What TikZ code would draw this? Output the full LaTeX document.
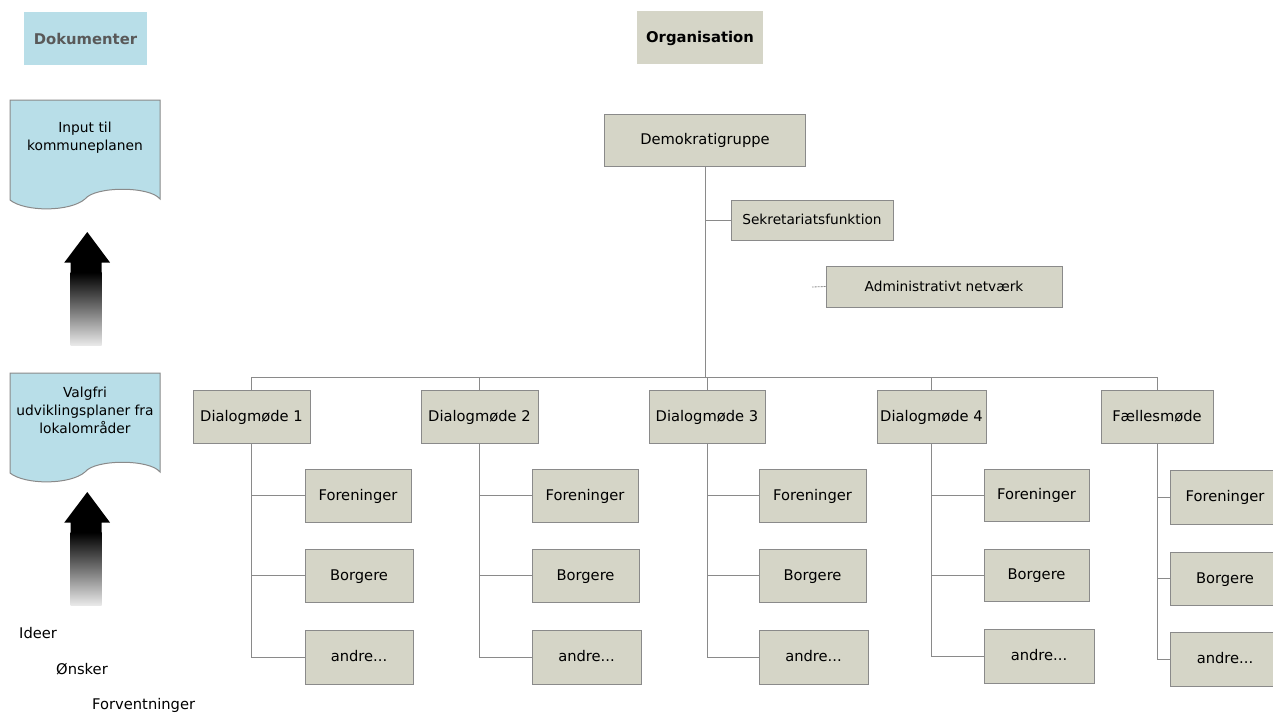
\documentclass[tikz,border=0pt]{standalone}
\usepackage{fontspec}
\setmainfont{DejaVu Sans}
\definecolor{boxfill}{HTML}{D5D5C7}
\definecolor{docblue}{HTML}{B8DEE8}
\definecolor{edgegray}{HTML}{8A8A8A}
\definecolor{titlegray}{HTML}{595959}
\begin{document}
\begin{tikzpicture}[x=1pt,y=-1pt,
  box/.style={draw=edgegray, line width=1pt, fill=boxfill, inner sep=0pt,
    text height=10.8pt, text depth=1.6pt,
    font=\fontsize{14.7}{17}\selectfont},
  conn/.style={draw=edgegray, line width=1pt},
  plain/.style={inner sep=0pt, anchor=west, font=\fontsize{14.7}{17}\selectfont},
  doctext/.style={inner sep=0pt, align=center, font=\fontsize{13.8}{18}\selectfont},
  docshape/.pic={
    \path[fill=docblue, draw=edgegray, line width=1pt]
      (10,100) -- (160,100) -- (160,199)
      .. controls (150,186) and (95,186) .. (85,199)
      .. controls (70,212) and (25,212) .. (10,200) -- cycle;
  },
  uparrow/.pic={
    \fill[black] (87.3,232) -- (110,262.5) -- (101.7,262.5) -- (101.7,273)
      -- (70.7,273) -- (70.7,262.5) -- (64.3,262.5) -- cycle;
    \shade[top color=black, bottom color=black!9, middle color=black!55] (70.7,272.5) rectangle (101.7,345);
  }
]
\clip (0,0) rectangle (1273,713);
\fill[white] (0,0) rectangle (1273,713);

% titles
\node[fill=docblue, minimum width=123pt, minimum height=53pt, inner sep=0pt,
  font=\bfseries\fontsize{14.8}{17}\selectfont, text=titlegray] (dok) at (85.5,38.5) {Dokumenter};
\node[fill=boxfill, minimum width=126pt, minimum height=53pt, inner sep=0pt,
  text height=10.8pt, text depth=0.8pt,
  font=\bfseries\fontsize{14.8}{17}\selectfont] (org) at (700,37.5) {Organisation};

% documents column
\pic at (0,0) {docshape};
\pic at (0,273) {docshape};
\node[doctext] (doc1) at (85,138) {Input til\\kommuneplanen};
\node[doctext] (doc2) at (85,410) {Valgfri\\udviklingsplaner fra\\lokalområder};
\pic at (0,0) {uparrow};
\pic at (0,260) {uparrow};
\node[plain] (ideer) at (19,633) {Ideer};
\node[plain] (onsker) at (56,669) {Ønsker};
\node[plain] (forv) at (92,705) {Forventninger};

% top of organisation
\node[box, minimum width=201pt, minimum height=52pt] (demo) at (705,140) {Demokratigruppe};
\node[box, minimum width=162pt, minimum height=40pt, font=\fontsize{13.7}{16}\selectfont] (sek) at (812,220) {Sekretariatsfunktion};
\node[box, minimum width=236pt, minimum height=41pt, font=\fontsize{13.7}{16}\selectfont] (adm) at (944,286.5) {Administrativt netværk};
\coordinate (admend) at (812,287);
\coordinate (bus) at (705,377);

% level 2
\node[box, minimum width=117pt, minimum height=53pt] (d1) at (251.5,416.5) {Dialogmøde 1};
\node[box, minimum width=117pt, minimum height=53pt] (d2) at (479.5,416.5) {Dialogmøde 2};
\node[box, minimum width=116pt, minimum height=53pt] (d3) at (707,416.5) {Dialogmøde 3};
\node[box, minimum width=109pt, minimum height=53pt] (d4) at (931.5,416.5) {Dialogmøde 4};
\node[box, minimum width=112pt, minimum height=53pt] (fm) at (1157,416.5) {Fællesmøde};

% level 3
\node[box, minimum width=106pt, minimum height=53pt] (d1f) at (358,495.5) {Foreninger};
\node[box, minimum width=108pt, minimum height=53pt] (d1b) at (359,575.5) {Borgere};
\node[box, minimum width=108pt, minimum height=54pt] (d1a) at (359,657) {andre...};

\node[box, minimum width=106pt, minimum height=53pt] (d2f) at (585,495.5) {Foreninger};
\node[box, minimum width=107pt, minimum height=53pt] (d2b) at (585.5,575.5) {Borgere};
\node[box, minimum width=109pt, minimum height=54pt] (d2a) at (586.5,657) {andre...};

\node[box, minimum width=107pt, minimum height=53pt] (d3f) at (812.5,495.5) {Foreninger};
\node[box, minimum width=107pt, minimum height=53pt] (d3b) at (812.5,575.5) {Borgere};
\node[box, minimum width=109pt, minimum height=54pt] (d3a) at (813.5,657) {andre...};

\node[box, minimum width=105pt, minimum height=52pt] (d4f) at (1036.5,495) {Foreninger};
\node[box, minimum width=105pt, minimum height=52pt] (d4b) at (1036.5,575) {Borgere};
\node[box, minimum width=110pt, minimum height=54pt] (d4a) at (1039,656) {andre...};

\node[box, minimum width=110pt, minimum height=54pt] (fmf) at (1225,497) {Foreninger};
\node[box, minimum width=110pt, minimum height=53pt] (fmb) at (1225,578.5) {Borgere};
\node[box, minimum width=110pt, minimum height=54pt] (fma) at (1225,659) {andre...};

% connectors
\draw[conn] (demo.south) -- (bus);
\draw[conn] (sek.west) -- (sek.west -| demo.south);
\draw[draw=edgegray, line width=0.8pt, dash pattern=on 2pt off 1pt] (adm.west) -- (admend);
\draw[conn] (d1.north) |- (bus) -| (fm.north);
\draw[conn] (d2.north) -- (d2.north |- bus);
\draw[conn] (d3.north) -- (d3.north |- bus);
\draw[conn] (d4.north) -- (d4.north |- bus);

\foreach \p in {d1,d2,d3,d4,fm}{
  \draw[conn] (\p.south) |- (\p a.west);
  \draw[conn] (\p.south |- \p f.west) -- (\p f.west);
  \draw[conn] (\p.south |- \p b.west) -- (\p b.west);
}
\end{tikzpicture}
\end{document}
